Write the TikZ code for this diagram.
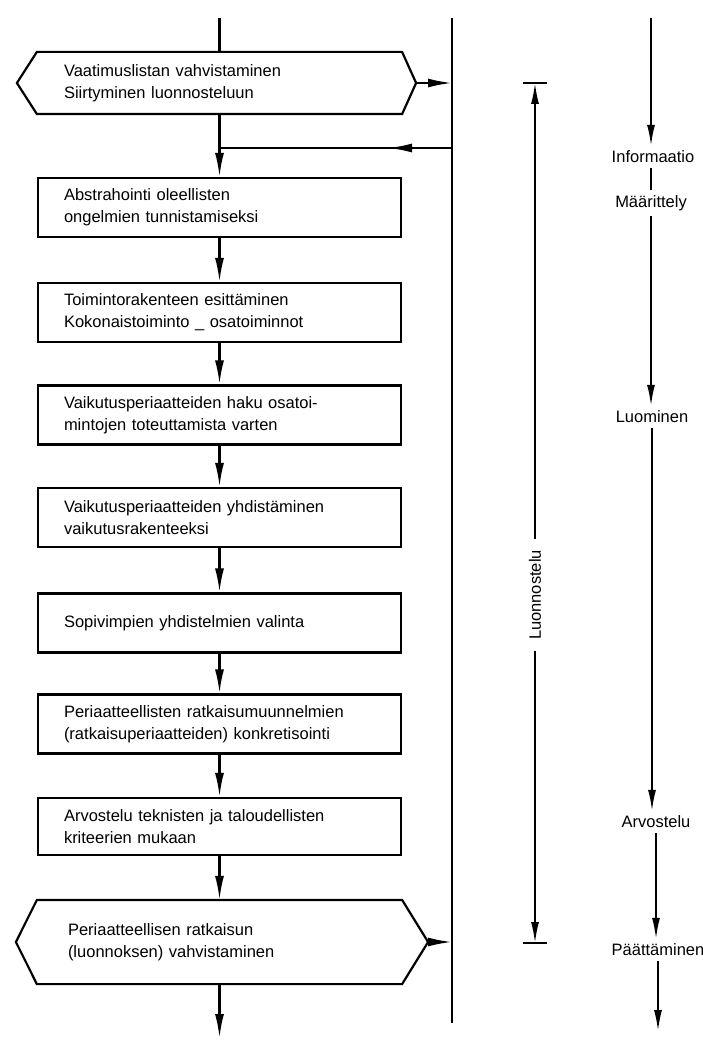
\documentclass[tikz,border=0pt]{standalone}
\usepackage{fontspec}
\setmainfont{Liberation Sans}
\usepackage{tikz}
\usetikzlibrary{arrows.meta}

\begin{document}
\begin{tikzpicture}[x=1pt,y=-1pt,line width=2.2pt,
  box/.style={draw,minimum width=363,minimum height=59,text width=311,inner xsep=26,align=left,font=\fontsize{16.5}{22}\selectfont},
  hexbox/.style={box,draw=none},
  phase/.style={inner sep=4pt,font=\fontsize{16.5}{22}\selectfont},
  arr/.style={-{Latex[length=24pt,width=9pt]}},
  thinarr/.style={line width=1.8pt,-{Latex[length=21pt,width=8pt]}},
  thin/.style={line width=1.8pt}]
\useasboundingbox (0,0) rectangle (703,1043);
% Steps
\node (vaatimus) at (219.5,83) [hexbox,minimum height=60] {Vaatimuslistan vahvistaminen\\Siirtyminen luonnosteluun};
\node (abstrahointi) at (219.5,207.5) [box] {Abstrahointi oleellisten\\ongelmien tunnistamiseksi};
\node (toiminto) at (219.5,312.5) [box] {Toimintorakenteen esitt\"aminen\\Kokonaistoiminto \_ osatoiminnot};
\node (haku) at (219.5,415) [box] {Vaikutusperiaatteiden haku osatoi-\\mintojen toteuttamista varten};
\node (yhdistaminen) at (219.5,517.5) [box] {Vaikutusperiaatteiden yhdist\"aminen\\vaikutusrakenteeksi};
\node (valinta) at (219.5,623) [box] {Sopivimpien yhdistelmien valinta};
\node (konkretisointi) at (219.5,724) [box] {Periaatteellisten ratkaisumuunnelmien\\(ratkaisuperiaatteiden) konkretisointi};
\node (arvostelu) at (219.5,826.5) [box,minimum height=57] {Arvostelu teknisten ja taloudellisten\\kriteerien mukaan};
\node (vahvistus) at (219.5,942) [hexbox,minimum height=82,text width=303,inner xsep=30] {Periaatteellisen ratkaisun\\(luonnoksen) vahvistaminen};
% Hexagon outlines
\draw (vaatimus.north west) -- (vaatimus.north east) -- ([xshift=14]vaatimus.east) -- (vaatimus.south east)
  -- (vaatimus.south west) -- ([xshift=-20]vaatimus.west) -- cycle;
\draw (vahvistus.north west) -- (vahvistus.north east) -- ([xshift=26]vahvistus.east) -- (vahvistus.south east)
  -- (vahvistus.south west) -- ([xshift=-21]vahvistus.west) -- cycle;
% Main flow
\coordinate (top) at (219.5,18);
\coordinate (bottom) at (219.5,1038);
\draw (top) -- (vaatimus.north);
\draw [arr] (vaatimus.south) -- (abstrahointi.north);
\foreach \a/\b in {abstrahointi/toiminto,toiminto/haku,haku/yhdistaminen,yhdistaminen/valinta,
  valinta/konkretisointi,konkretisointi/arvostelu,arvostelu/vahvistus}
  \draw [arr] (\a.south) -- (\b.north);
\draw [arr] (vahvistus.south) -- (bottom);
% Side line
\coordinate (rtop) at (452,18);
\coordinate (rbottom) at (452,1023);
\draw (rtop) -- (rbottom);
\draw [arr] ([xshift=14]vaatimus.east) -- (rtop |- vaatimus.east);
\draw [arr] ([xshift=26]vahvistus.east) -- (rtop |- vahvistus.east);
% Feedback
\coordinate (fb) at (452,148);
\coordinate (join) at (abstrahointi.north |- fb);
\draw [arr] (fb) -- ++(-64,0);
\draw (fb) -- (join);
% Luonnostelu
\node (luonnostelu) at (535,595) [phase,rotate=90,inner sep=10pt] {Luonnostelu};
\coordinate (ltop) at (535,83);
\coordinate (lbottom) at (535,943);
\draw [thinarr] (luonnostelu.east) -- (ltop);
\draw [thinarr] (luonnostelu.west) -- (lbottom);
\draw [thin] ([xshift=-12]ltop) -- ([xshift=12]ltop);
\draw [thin] ([xshift=-12]lbottom) -- ([xshift=12]lbottom);
% Phases
\node (info) at (653,157) [phase] {Informaatio};
\node (maar) at (651,203) [phase] {M\"a\"arittely};
\node (luom) at (652,417) [phase] {Luominen};
\node (arvo) at (656,822) [phase] {Arvostelu};
\node (paat) at (658,950) [phase] {P\"a\"att\"aminen};
\coordinate (ptop) at (651,18);
\coordinate (pbottom) at (658,1031);
\draw [thinarr] (ptop) -- (ptop |- info.north);
\draw [thin] (info.south -| maar) -- (maar.north);
\draw [thinarr] (maar.south) -- (maar.south |- luom.north);
\draw [thinarr] (luom.south) -- (luom.south |- arvo.north);
\draw [thinarr] (arvo.south) -- (arvo.south |- paat.north);
\draw [thinarr] (paat.south) -- (pbottom);
\end{tikzpicture}
\end{document}
